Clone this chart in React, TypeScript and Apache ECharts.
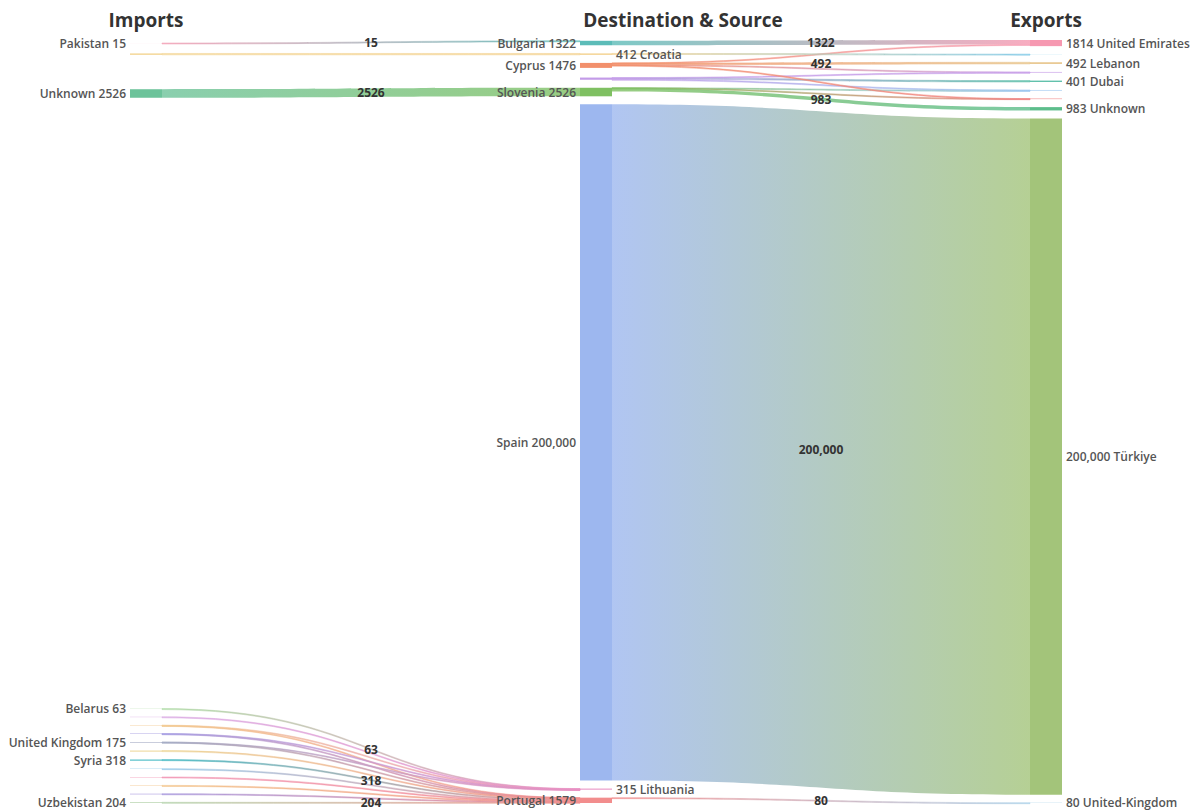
import React, { useEffect, useRef } from 'react';
import * as echarts from 'echarts';

// ---------- data ----------
const columnTitles = ['Imports', 'Destination & Source', 'Exports'];

// Imports (left column)
const importNames = ['Pakistan', 'Import 2', 'Unknown', 'Belarus', 'Import 5', 'Import 6', 'Import 7', 'United Kingdom', 'Import 9', 'Syria', 'Import 11', 'Import 12', 'Import 13', 'Import 14', 'Uzbekistan'];
const importValues = [15, 412, 2526, 63, 100, 120, 140, 175, 280, 318, 100, 120, 114, 160, 204];
const importLabelShown = [true, false, true, true, false, false, false, true, false, true, false, false, false, false, true];

// Destination & Source (middle column)
const hubNames = ['Bulgaria', 'Croatia', 'Cyprus', 'Hub 4', 'Slovenia', 'Spain', 'Lithuania', 'Portugal'];
const hubValues = [1322, 412, 1476, 651, 2526, 200000, 315, 1579];
const hubLabelShown = [true, true, true, false, true, true, true, true];
const hubLabelRight = [false, true, false, false, false, false, true, false];

// Exports (right column)
const exportNames = ['United Emirates', 'Export 2', 'Lebanon', 'Export 4', 'Dubai', 'Unknown', 'Export 6', 'Export 7', 'Türkiye', 'United-Kingdom'];
const exportValues = [1814, 40, 492, 200, 401, 983, 180, 160, 200000, 80];
const exportLabelShown = [true, false, true, false, true, true, false, false, true, true];

// flows: [source, target, value, showValue]
const importFlows: [string, string, number, boolean][] = [
  ['Pakistan', 'Bulgaria', 15, true],
  ['Import 2', 'Croatia', 412, false],
  ['Unknown', 'Slovenia', 2526, true],
  ['Belarus', 'Lithuania', 63, true],
  ['Import 5', 'Lithuania', 100, false],
  ['Import 6', 'Lithuania', 80, false],
  ['Import 6', 'Portugal', 40, false],
  ['Import 7', 'Lithuania', 40, false],
  ['Import 7', 'Portugal', 100, false],
  ['United Kingdom', 'Lithuania', 32, false],
  ['United Kingdom', 'Portugal', 143, false],
  ['Import 9', 'Portugal', 280, false],
  ['Syria', 'Portugal', 318, true],
  ['Import 11', 'Portugal', 100, false],
  ['Import 12', 'Portugal', 120, false],
  ['Import 13', 'Portugal', 114, false],
  ['Import 14', 'Portugal', 160, false],
  ['Uzbekistan', 'Portugal', 204, true],
];
const exportFlows: [string, string, number, boolean][] = [
  ['Bulgaria', 'United Emirates', 1322, true],
  ['Cyprus', 'United Emirates', 60, false],
  ['Croatia', 'Export 2', 40, false],
  ['Cyprus', 'Lebanon', 492, true],
  ['Cyprus', 'Export 4', 100, false],
  ['Hub 4', 'Export 4', 100, false],
  ['Hub 4', 'Dubai', 401, false],
  ['Hub 4', 'Export 6', 150, false],
  ['Slovenia', 'Export 6', 30, false],
  ['Cyprus', 'Export 7', 40, false],
  ['Slovenia', 'Export 7', 120, false],
  ['Slovenia', 'Unknown', 983, true],
  ['Spain', 'Türkiye', 200000, true],
  ['Portugal', 'United-Kingdom', 80, true],
];

// ---------- styles ----------
const importColors = ['#f4a3b8', '#f3d491', '#6cc39a', '#a9d9a0', '#d9a8e3', '#f2c98f', '#a79fe3', '#a3abc4', '#ebd38f', '#3fb8c2', '#93c9ea', '#f193b3', '#f2c183', '#a292db', '#b3d2aa'];
const hubColors = ['#5cbcb8', '#f3d08c', '#f2906c', '#c39be8', '#7fc062', '#9db7ef', '#e88fc2', '#f28d8d'];
const exportColors = ['#f698b1', '#7cc7e6', '#e8c68d', '#c9a1e9', '#5dbfa9', '#5cbd8b', '#9cc6f0', '#f08383', '#a3c47a', '#a9d0e8'];

const FONT = '"Open Sans", "Noto Sans", sans-serif';

function fmt(v: number): string {
  return v >= 10000 ? v.toLocaleString('en-US') : String(v);
}

function hexA(hex: string, a: number) {
  const n = parseInt(hex.slice(1), 16);
  return `rgba(${(n >> 16) & 255},${(n >> 8) & 255},${n & 255},${a})`;
}

export default function App() {
  const ref = useRef<HTMLDivElement>(null);

  useEffect(() => {
    if (!ref.current) return;
    const chart = echarts.init(ref.current, undefined, { renderer: 'svg' });

    const colorOf: Record<string, string> = {};
    const idOf = (col: number, name: string) => `${col}:${name}`;

    const nodes: any[] = [];
    importNames.forEach((n, i) => {
      colorOf[idOf(0, n)] = importColors[i];
      nodes.push({
        name: idOf(0, n), display: n, value: importValues[i], depth: 0,
        itemStyle: { color: importColors[i] },
        label: { show: importLabelShown[i], position: 'left' },
      });
    });
    hubNames.forEach((n, i) => {
      colorOf[idOf(1, n)] = hubColors[i];
      nodes.push({
        name: idOf(1, n), display: n, value: hubValues[i], depth: 1, rightSide: hubLabelRight[i],
        itemStyle: { color: hubColors[i] },
        label: { show: hubLabelShown[i], position: hubLabelRight[i] ? 'right' : 'left' },
      });
    });
    exportNames.forEach((n, i) => {
      colorOf[idOf(2, n)] = exportColors[i];
      nodes.push({
        name: idOf(2, n), display: n, value: exportValues[i], depth: 2, rightSide: true,
        itemStyle: { color: exportColors[i] },
        label: { show: exportLabelShown[i], position: 'right' },
      });
    });

    const makeLink = (s: string, t: string, v: number, show: boolean) => {
      const c1 = colorOf[s], c2 = colorOf[t];
      const link: any = { source: s, target: t, value: v, edgeLabel: { show } };
      if (v < 700) {
        link.lineStyle = {
          borderWidth: 1,
          borderColor: new echarts.graphic.LinearGradient(0, 0, 1, 0, [
            { offset: 0, color: hexA(c1, 0.65) },
            { offset: 1, color: hexA(c2, 0.65) },
          ]),
        };
      }
      return link;
    };
    const links = [
      ...importFlows.map(([s, t, v, sh]) => makeLink(idOf(0, s), idOf(1, t), v, sh)),
      ...exportFlows.map(([s, t, v, sh]) => makeLink(idOf(1, s), idOf(2, t), v, sh)),
    ];

    const titleX = [146, 683, 1046];

    chart.setOption({
      animation: false,
      backgroundColor: '#ffffff',
      graphic: columnTitles.map((t, i) => ({
        type: 'text',
        x: titleX[i],
        y: 20,
        style: {
          text: t,
          align: 'center',
          verticalAlign: 'middle',
          fontFamily: FONT,
          fontSize: 19,
          fontWeight: 'bold',
          fill: '#333',
        },
      })),
      series: [
        {
          type: 'sankey',
          left: 130,
          right: 138,
          top: 40,
          bottom: 9,
          nodeWidth: 32,
          nodeGap: 8,
          layoutIterations: 1,
          draggable: false,
          emphasis: { focus: 'none' },
          itemStyle: { borderWidth: 0 },
          lineStyle: { color: 'gradient', opacity: 0.8, curveness: 0.5 },
          label: {
            fontFamily: FONT,
            fontSize: 12,
            fontWeight: 600,
            color: '#555',
            distance: 4,
            formatter: (p: any) => {
              const d = p.data;
              return d.rightSide ? `${fmt(p.value)} ${d.display}` : `${d.display} ${fmt(p.value)}`;
            },
          },
          edgeLabel: {
            show: false,
            fontFamily: FONT,
            fontSize: 12,
            fontWeight: 'bold',
            color: '#333',
            formatter: (p: any) => fmt(p.value),
          },
          data: nodes,
          links,
        },
      ],
    });

    return () => chart.dispose();
  }, []);

  return (
    <div
      ref={ref}
      style={{ position: 'absolute', left: 0, top: 0, width: 1200, height: 812 }}
    />
  );
}
